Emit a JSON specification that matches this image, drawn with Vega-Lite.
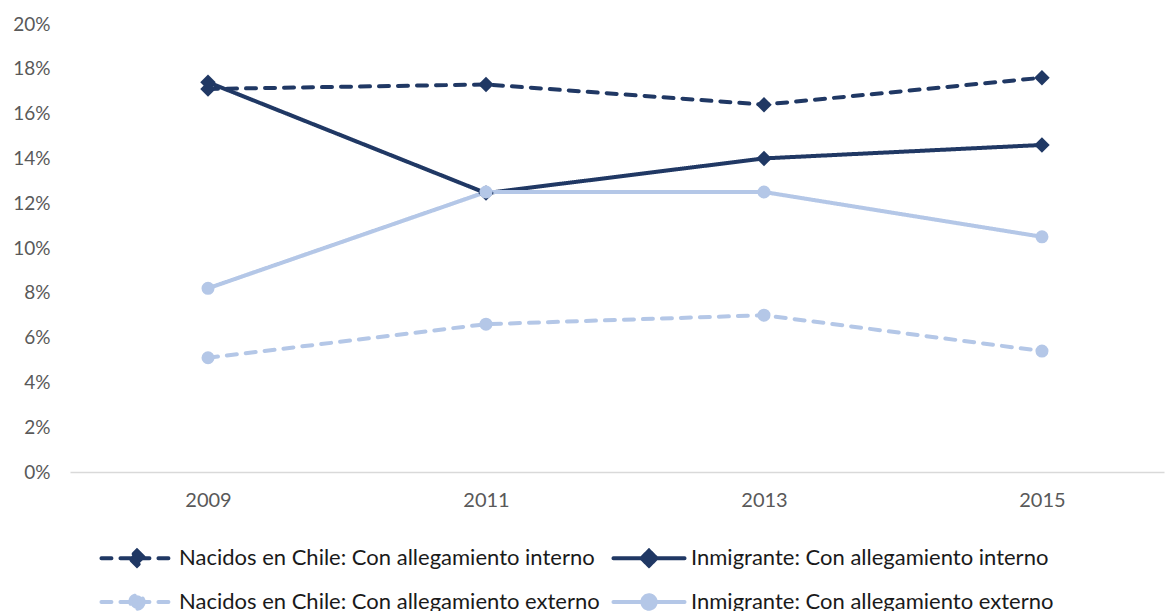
{
  "$schema": "https://vega.github.io/schema/vega-lite/v6.json",
  "width": 1094,
  "height": 448,
  "autosize": {"type": "none"},
  "padding": {"left": 70, "top": 24, "right": 1, "bottom": 139},
  "background": "white",
  "config": {
    "view": {"stroke": null},
    "font": "Lato",
    "axis": {"labelFont": "Lato", "titleFont": "Lato"}
  },
  "data": {
    "values": [
      {"year": 2009, "serie": "Nacidos en Chile: Con allegamiento interno", "tipo": "interno", "value": 0.171},
      {"year": 2011, "serie": "Nacidos en Chile: Con allegamiento interno", "tipo": "interno", "value": 0.173},
      {"year": 2013, "serie": "Nacidos en Chile: Con allegamiento interno", "tipo": "interno", "value": 0.164},
      {"year": 2015, "serie": "Nacidos en Chile: Con allegamiento interno", "tipo": "interno", "value": 0.176},
      {"year": 2009, "serie": "Inmigrante: Con allegamiento interno", "tipo": "interno", "value": 0.174},
      {"year": 2011, "serie": "Inmigrante: Con allegamiento interno", "tipo": "interno", "value": 0.1245},
      {"year": 2013, "serie": "Inmigrante: Con allegamiento interno", "tipo": "interno", "value": 0.140},
      {"year": 2015, "serie": "Inmigrante: Con allegamiento interno", "tipo": "interno", "value": 0.146},
      {"year": 2009, "serie": "Nacidos en Chile: Con allegamiento externo", "tipo": "externo", "value": 0.051},
      {"year": 2011, "serie": "Nacidos en Chile: Con allegamiento externo", "tipo": "externo", "value": 0.066},
      {"year": 2013, "serie": "Nacidos en Chile: Con allegamiento externo", "tipo": "externo", "value": 0.070},
      {"year": 2015, "serie": "Nacidos en Chile: Con allegamiento externo", "tipo": "externo", "value": 0.054},
      {"year": 2009, "serie": "Inmigrante: Con allegamiento externo", "tipo": "externo", "value": 0.082},
      {"year": 2011, "serie": "Inmigrante: Con allegamiento externo", "tipo": "externo", "value": 0.125},
      {"year": 2013, "serie": "Inmigrante: Con allegamiento externo", "tipo": "externo", "value": 0.125},
      {"year": 2015, "serie": "Inmigrante: Con allegamiento externo", "tipo": "externo", "value": 0.105}
    ]
  },
  "encoding": {
    "x": {
      "field": "year",
      "type": "quantitative",
      "scale": {"domain": [2008.007, 2015.878], "nice": false, "zero": false},
      "axis": {
        "title": null,
        "values": [2009, 2011, 2013, 2015],
        "format": "d",
        "grid": false,
        "ticks": false,
        "tickSize": 0,
        "labelPadding": 18,
        "labelFontSize": 20,
        "labelColor": "#595959",
        "domainColor": "#D9D9D9",
        "domainWidth": 1.5
      }
    },
    "y": {
      "field": "value",
      "type": "quantitative",
      "scale": {"domain": [0, 0.2], "nice": false},
      "axis": {
        "title": null,
        "values": [0, 0.02, 0.04, 0.06, 0.08, 0.1, 0.12, 0.14, 0.16, 0.18, 0.2],
        "format": ".0%",
        "grid": false,
        "domain": false,
        "ticks": false,
        "tickSize": 0,
        "labelPadding": 20,
        "labelFontSize": 19,
        "labelColor": "#595959"
      }
    },
    "color": {
      "field": "serie",
      "type": "nominal",
      "scale": {
        "domain": [
          "Nacidos en Chile: Con allegamiento interno",
          "Inmigrante: Con allegamiento interno",
          "Nacidos en Chile: Con allegamiento externo",
          "Inmigrante: Con allegamiento externo"
        ],
        "range": ["#203864", "#203864", "#B4C7E7", "#B4C7E7"]
      }
    }
  },
  "layer": [
    {
      "mark": {"type": "line", "strokeWidth": 4, "strokeCap": "round"},
      "encoding": {
        "strokeDash": {
          "field": "serie",
          "type": "nominal",
          "scale": {
            "domain": [
              "Nacidos en Chile: Con allegamiento interno",
              "Inmigrante: Con allegamiento interno",
              "Nacidos en Chile: Con allegamiento externo",
              "Inmigrante: Con allegamiento externo"
            ],
            "range": [[10, 9], [1, 0], [10, 9], [1, 0]]
          },
          "legend": null
        },
        "color": {
          "field": "serie",
          "type": "nominal",
          "legend": {
            "title": null,
            "orient": "none",
            "legendX": 56,
            "legendY": 523,
            "columns": 2,
            "direction": "horizontal",
            "padding": 0,
            "symbolType": "M-4,0H4M0,-0.85L0.85,0L0,0.85L-0.85,0Z",
            "symbolSize": 316,
            "symbolStrokeWidth": 4,
            "labelOffset": 31,
            "columnPadding": 5,
            "rowPadding": 13,
            "labelFont": "Lato",
            "labelFontSize": 22,
            "labelColor": "#1a1a1a",
            "labelLimit": 0,
            "encode": {
              "symbols": {
                "update": {
                  "shape": {"signal": "indexof(datum.value, 'interno') >= 0 ? 'M-4,0H4M0,-0.85L0.85,0L0,0.85L-0.85,0Z' : 'M-4,0H4M0.75,0A0.75,0.75,0,1,1,-0.75,0A0.75,0.75,0,1,1,0.75,0Z'"},
                  "strokeDash": {"signal": "indexof(datum.value, 'Nacidos') >= 0 ? [10, 9] : [1, 0]"},
                  "stroke": {"signal": "indexof(datum.value, 'interno') >= 0 ? '#203864' : '#B4C7E7'"},
                  "fill": {"signal": "indexof(datum.value, 'interno') >= 0 ? '#203864' : '#B4C7E7'"},
                  "strokeCap": {"value": "round"},
                  "opacity": {"value": 1},
                  "fillOpacity": {"value": 1},
                  "strokeOpacity": {"value": 1}
                }
              }
            }
          }
        }
      }
    },
    {
      "transform": [{"filter": "datum.tipo === 'interno'"}],
      "mark": {"type": "point", "filled": true, "opacity": 1, "shape": "diamond", "size": 240}
    },
    {
      "transform": [{"filter": "datum.tipo === 'externo'"}],
      "mark": {"type": "point", "filled": true, "opacity": 1, "shape": "circle", "size": 170}
    }
  ]
}
